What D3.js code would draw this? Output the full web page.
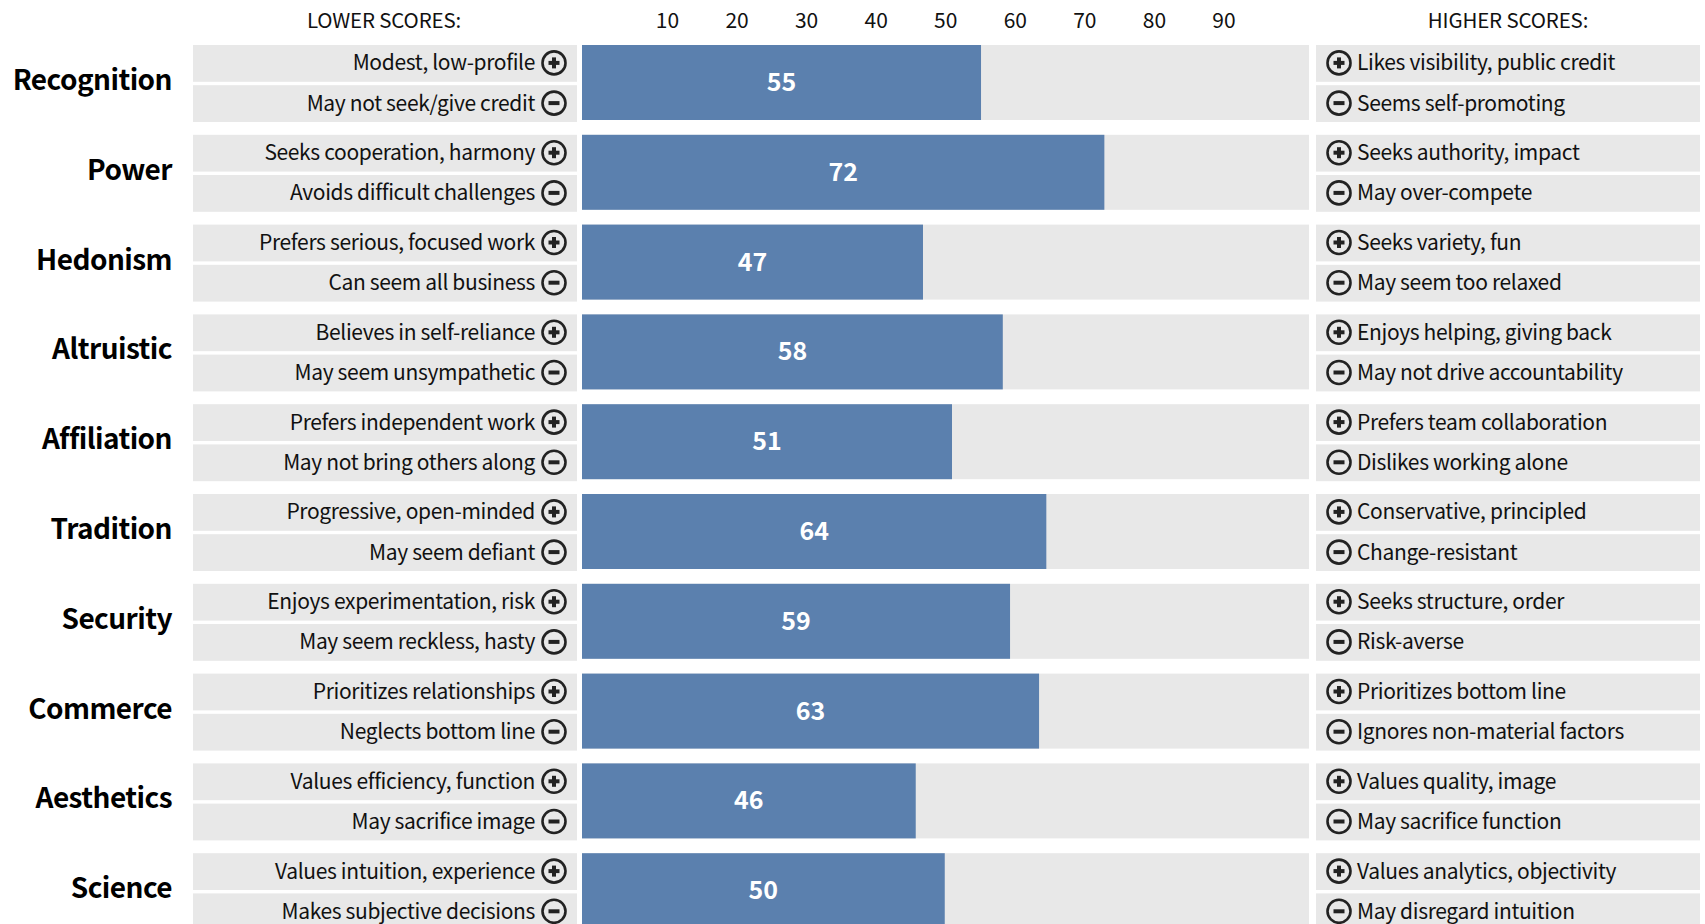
<!DOCTYPE html>
<html lang="en">
<head>
<meta charset="UTF-8">
<title>Values scores</title>
<script src="https://cdn.jsdelivr.net/npm/d3@7"></script>
<style>
    html, body { margin: 0; padding: 0; background: #fff; overflow: hidden; }
    svg { display: block; }
    text { font-family: "Noto Sans CJK JP", "Noto Sans", sans-serif; fill: #111; }
</style>
</head>
<body>
<script>
const categories = ["Recognition","Power","Hedonism","Altruistic","Affiliation","Tradition","Security","Commerce","Aesthetics","Science"];
const scores = [55,72,47,58,51,64,59,63,46,50];
const lowerPlus = ["Modest, low-profile","Seeks cooperation, harmony","Prefers serious, focused work","Believes in self-reliance","Prefers independent work","Progressive, open-minded","Enjoys experimentation, risk","Prioritizes relationships","Values efficiency, function","Values intuition, experience"];
const lowerMinus = ["May not seek/give credit","Avoids difficult challenges","Can seem all business","May seem unsympathetic","May not bring others along","May seem defiant","May seem reckless, hasty","Neglects bottom line","May sacrifice image","Makes subjective decisions"];
const higherPlus = ["Likes visibility, public credit","Seeks authority, impact","Seeks variety, fun","Enjoys helping, giving back","Prefers team collaboration","Conservative, principled","Seeks structure, order","Prioritizes bottom line","Values quality, image","Values analytics, objectivity"];
const higherMinus = ["Seems self-promoting","May over-compete","May seem too relaxed","May not drive accountability","Dislikes working alone","Change-resistant","Risk-averse","Ignores non-material factors","May sacrifice function","May disregard intuition"];
const tickValues = [10,20,30,40,50,60,70,80,90];

const width = 1705, height = 924;
const rowStep = 89.8, rowTop = 45;
const rowH = 36.8, rowGap = 3.4;

const svg = d3.select("body").append("svg").attr("width", width).attr("height", height);

const y = d3.scaleBand().domain(categories).range([rowTop, rowTop + rowStep * categories.length]);
const x = d3.scaleLinear().domain([0, 100]).range([582, 1307.5]);
// the axis numbers don't line up with the bars in the original, so they get their own scale
const xTicks = d3.scaleLinear().domain([10, 90]).range([667, 1223.5]);

const axis = d3.axisTop(xTicks).tickValues(tickValues).tickSize(0).tickPadding(0);
const axisG = svg.append("g").attr("transform", "translate(0,28)").call(axis);
axisG.select(".domain").remove();
axisG.selectAll("text").style("font-family", null).attr("font-size", 21).attr("dy", 0);

svg.append("text").attr("x", 384).attr("y", 28).attr("text-anchor", "middle").attr("font-size", 20.5).attr("letter-spacing", -0.15).text("LOWER SCORES:");
svg.append("text").attr("x", 1508).attr("y", 28).attr("text-anchor", "middle").attr("font-size", 20.5).attr("letter-spacing", -0.15).text("HIGHER SCORES:");

function icon(g, cx, cy, plus) {
    g.append("circle").attr("cx", cx).attr("cy", cy).attr("r", 11.5)
        .attr("fill", "none").attr("stroke", "#222").attr("stroke-width", 2.6);
    g.append("rect").attr("x", cx - 5.5).attr("y", cy - 2).attr("width", 11).attr("height", 4).attr("fill", "#222");
    if (plus) g.append("rect").attr("x", cx - 2).attr("y", cy - 5.5).attr("width", 4).attr("height", 11).attr("fill", "#222");
}

const rows = svg.selectAll("g.row").data(categories).enter().append("g").attr("class", "row")
    .attr("transform", d => "translate(0," + y(d) + ")");

rows.each(function(d, i) {
    const g = d3.select(this);
    [0, 1].forEach(k => {
        const top = k * (rowH + rowGap);
        const mid = top + rowH / 2;
        g.append("rect").attr("x", 193).attr("y", top).attr("width", 384).attr("height", rowH).attr("fill", "#e8e8e8");
        g.append("rect").attr("x", 1316).attr("y", top).attr("width", 384).attr("height", rowH).attr("fill", "#e8e8e8");
        g.append("text").attr("x", 535).attr("y", mid + 7).attr("text-anchor", "end").attr("font-size", 21).attr("letter-spacing", -0.35)
            .text(k ? lowerMinus[i] : lowerPlus[i]);
        g.append("text").attr("x", 1357).attr("y", mid + 7).attr("font-size", 21).attr("letter-spacing", -0.35)
            .text(k ? higherMinus[i] : higherPlus[i]);
        icon(g, 554, mid - 0.5, !k);
        icon(g, 1339, mid - 0.5, !k);
    });
    g.append("rect").attr("x", x(0)).attr("y", 0).attr("width", 1309 - x(0)).attr("height", 75).attr("fill", "#e8e8e8");
    g.append("rect").attr("x", x(0)).attr("y", 0).attr("width", x(scores[i]) - x(0)).attr("height", 75).attr("fill", "#5b80ae");
    g.append("text").attr("x", (x(0) + x(scores[i])) / 2).attr("y", 46).attr("text-anchor", "middle")
        .attr("font-size", 25).attr("font-weight", 700).style("fill", "#fff").text(scores[i]);
    g.append("text").attr("x", 172).attr("y", 45).attr("text-anchor", "end")
        .attr("font-size", 28).attr("letter-spacing", -0.55).attr("font-weight", 700).style("fill", "#000").text(d);
});
</script>
</body>
</html>
